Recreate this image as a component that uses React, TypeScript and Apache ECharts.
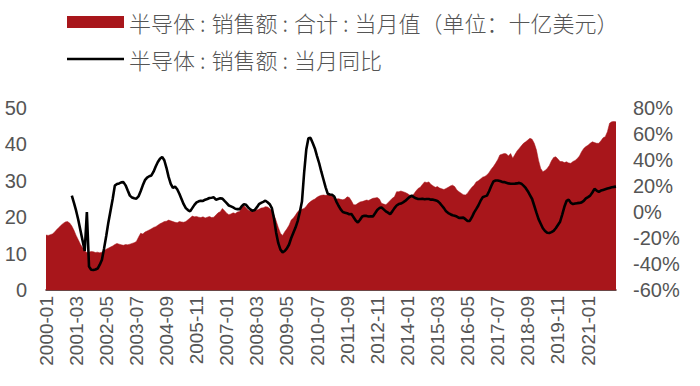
import React, { useEffect, useRef } from "react";
import * as echarts from "echarts";

const SALES_NAME = "半导体:销售额:合计:当月值（单位：十亿美元）";
const YOY_NAME = "半导体:销售额:当月同比";

// monthly categories 2000-01 .. 2022-02
const START_YEAR = 2000;
const MONTH_COUNT = 266;
const months: string[] = [];
for (let i = 0; i < MONTH_COUNT; i++) {
  const y = START_YEAR + Math.floor(i / 12);
  const m = (i % 12) + 1;
  months.push(`${y}-${m < 10 ? "0" + m : m}`);
}

// 当月值 (十亿美元), one row per year
const sales: number[] = [
  15.1, 15.0, 15.2, 15.4, 15.9, 16.6, 17.2, 17.8, 18.3, 18.7, 18.8, 18.4,
  17.6, 16.4, 15.0, 13.8, 12.6, 11.6, 10.8, 10.3, 10.4, 10.6, 10.5, 10.3,
  10.4, 10.2, 10.4, 10.8, 11.2, 11.5, 11.8, 12.1, 12.5, 12.8, 12.6, 12.4,
  12.3, 12.5, 12.4, 12.6, 12.8, 13.0, 13.3, 14.5, 15.6, 15.4, 15.9, 16.2,
  16.5, 16.8, 17.2, 17.4, 17.8, 18.2, 18.5, 18.8, 18.9, 19.2, 19.0, 18.8,
  18.6, 18.5, 18.8, 18.7, 18.6, 18.8, 19.3, 19.8, 20.3, 20.1, 20.2, 20.0,
  19.9, 20.1, 19.8, 20.0, 20.2, 19.9, 20.0, 20.6, 21.2, 21.5, 22.4, 21.8,
  21.1, 20.7, 20.9, 21.2, 21.0, 21.4, 21.6, 22.7, 23.2, 22.6, 22.0, 21.7,
  21.5, 21.8, 22.0, 22.2, 22.5, 22.6, 22.9, 22.8, 22.4, 21.8, 20.6, 19.0,
  17.2, 15.6, 15.0, 16.0, 16.8, 17.8, 19.2, 19.8, 20.6, 21.5, 22.0, 22.2,
  22.4, 23.0, 23.8, 24.3, 24.7, 25.0, 25.5, 25.8, 26.0, 26.1, 26.0, 26.1,
  26.1, 25.8, 25.2, 25.0, 25.1, 24.9, 24.8, 25.0, 25.6, 25.4, 24.5, 23.4,
  23.4, 23.8, 24.2, 24.3, 24.5, 24.7, 24.6, 24.9, 25.2, 25.3, 25.4, 25.0,
  23.8, 23.6, 23.4, 24.0, 24.6, 25.2, 25.6, 27.0, 27.0, 27.2, 27.0, 26.8,
  26.5, 26.1, 25.8, 26.4, 27.2, 27.9, 28.2, 29.0, 29.7, 29.5, 29.7, 29.0,
  28.6, 28.2, 28.4, 28.0, 27.8, 27.6, 27.9, 28.2, 28.6, 28.8, 28.4, 27.5,
  27.0, 26.6, 26.2, 26.1, 26.6, 27.5, 28.2, 28.8, 29.7, 30.0, 30.5, 31.0,
  31.2, 31.6, 32.3, 33.2, 33.9, 34.8, 35.8, 37.1, 37.3, 37.5, 37.4, 36.8,
  37.5, 36.2, 37.2, 38.2, 38.9, 39.6, 40.3, 40.7, 41.2, 41.7, 41.4, 40.3,
  38.5, 35.6, 33.4, 32.5, 32.8, 33.4, 34.2, 35.5, 36.4, 36.6, 36.0, 35.3,
  35.3, 35.0, 35.2, 34.9, 34.8, 35.3, 35.6, 36.1, 36.8, 38.0, 38.9, 39.4,
  39.8, 40.3, 40.7, 40.5, 40.3, 40.3, 41.0, 41.8, 42.1, 43.5, 45.8, 46.2,
  46.3, 46.2,
];

// 当月同比 (%), one row per year; 2000 has no value
const yoy: (number | null)[] = [
  null, null, null, null, null, null, null, null, null, null, null, null,
  12.6, 7, 1, -6, -14, -22, -30, 0, -42, -44.4, -44.6, -44.2,
  -43.5, -40.5, -36.7, -28, -18.5, -8, 1, 10, 20.3, 21.5, 22, 22.8,
  23.0, 20.5, 16.5, 12.6, 11.2, 10.6, 10.3, 12, 16, 20.5, 24.5, 26.5,
  27.5, 28.1, 31, 35, 38.5, 41, 42.4, 39.8, 34, 27, 21.7, 18.5,
  19.5, 17.5, 14, 10, 6, 3, 1.5, 0.5, 3, 5.5, 7.4, 8.2,
  8.7, 8.5, 9.5, 10, 10.8, 11, 11.3, 9.5, 10, 10.5, 10.3, 8.5,
  6.8, 5, 4.3, 3.5, 2.5, 2.2, 2.2, 4.5, 6, 5.5, 3.5, 2,
  0.9, 1.5, 3.5, 6, 7, 7.8, 8.7, 7.5, 6, 3, -5, -15.9,
  -24, -29, -31, -30, -28, -25, -20, -16, -12, -7, 0, 8,
  30, 48, 56.7, 57, 53, 48.9, 43, 37.5, 31, 25, 19, 14,
  13.5, 13.3, 12, 8, 4.8, 2, 0, -0.5, -1, -1.7, -1.6, -4,
  -6.5, -8.1, -6, -3.5, -2.9, -3, -3.5, -3.4, -3.4, -1, 1.5, 3,
  3.5, 2, 0.5, -0.5, -1.7, 0.5, 3, 5, 6.1, 6.5, 7.4, 8.5,
  10, 11.5, 12.6, 11.5, 10.5, 10, 10, 10.2, 9.8, 10, 10, 9.5,
  9.5, 9, 8.5, 7, 5, 3, 0.5, -0.8, -1.7, -2.5, -2.9, -3.5,
  -4.5, -4.5, -4.3, -5.5, -6.9, -6.9, -4, -0.5, 2.2, 5, 8.5, 11.3,
  12, 12.6, 16, 20, 23.5, 24.2, 24.2, 23.8, 23.2, 23, 22.5, 22,
  21.7, 21.7, 21.8, 22, 22.4, 21.8, 20.3, 18.5, 16, 13, 10, 4.8,
  -0.5, -5.5, -9, -12.5, -14.6, -16, -16.2, -15.5, -14.5, -12.5, -10, -7.5,
  -2, 4, 8.5, 9.5, 7, 6.1, 6.5, 6.8, 7, 7.4, 8.5, 10.5,
  11.5, 12.6, 15, 17.8, 16.5, 15.5, 16.5, 17, 17.5, 18, 18.5, 19,
  19.3, 19.5,
];

const FONT = '"Liberation Sans", Arial, "Noto Sans CJK SC", sans-serif';
const CJK_FONT = '"Noto Sans CJK SC", sans-serif';
const TEXT_COLOR = "#555555";
const RED = "#a8161b";

export default function App() {
  const ref = useRef<HTMLDivElement>(null);

  useEffect(() => {
    document.body.style.margin = "0";
    if (!ref.current) return;
    const chart = echarts.init(ref.current, undefined, { renderer: "svg" });
    const legendText = { fontSize: 22, color: TEXT_COLOR, fontFamily: CJK_FONT, fontWeight: 300 as any };
    chart.setOption({
      animation: false,
      backgroundColor: "#ffffff",
      legend: {
        orient: "vertical",
        left: 62,
        top: 6,
        itemWidth: 57,
        itemHeight: 12,
        itemGap: 15,
        symbolKeepAspect: true,
        formatter: (name: string) => name.split(":").join("{c|:}"),
        textStyle: {
          ...legendText,
          rich: {
            c: { ...legendText, padding: [0, 6, 0, 5] },
          },
        },
        data: [
          { name: SALES_NAME, icon: "rect" },
          { name: YOY_NAME, icon: "path://M0,0H57V2.6H0Z" },
        ],
      },
      grid: { left: 46, right: 84, top: 108, bottom: 96 },
      xAxis: {
        type: "category",
        data: months,
        boundaryGap: false,
        axisLine: { lineStyle: { color: "#3a0a0a", width: 1.5 } },
        axisTick: {
          inside: true,
          length: 4,
          interval: 13,
          lineStyle: { color: "#3a0a0a" },
        },
        axisLabel: {
          interval: 13,
          rotate: 90,
          margin: 6,
          fontSize: 19,
          color: TEXT_COLOR,
          fontFamily: FONT,
        },
        splitLine: { show: false },
      },
      yAxis: [
        {
          type: "value",
          min: 0,
          max: 50,
          interval: 10,
          axisLine: { show: false },
          axisTick: { show: false },
          splitLine: { show: false },
          axisLabel: { fontSize: 20, color: TEXT_COLOR, fontFamily: FONT, margin: 19 },
        },
        {
          type: "value",
          min: -60,
          max: 80,
          interval: 20,
          axisLine: { show: false },
          axisTick: { show: false },
          splitLine: { show: false },
          axisLabel: {
            fontSize: 20,
            color: TEXT_COLOR,
            fontFamily: FONT,
            margin: 17,
            formatter: "{value}%",
          },
        },
      ],
      series: [
        {
          name: SALES_NAME,
          type: "line",
          data: sales,
          yAxisIndex: 0,
          symbol: "none",
          lineStyle: { width: 0.5, color: RED },
          itemStyle: { color: RED },
          areaStyle: { color: RED, opacity: 1 },
        },
        {
          name: YOY_NAME,
          type: "line",
          data: yoy,
          yAxisIndex: 1,
          symbol: "none",
          lineStyle: { width: 2.6, color: "#000000" },
          itemStyle: { color: "#000000" },
          z: 3,
        },
      ],
    });
    return () => chart.dispose();
  }, []);

  return <div ref={ref} style={{ width: 700, height: 386 }} />;
}
